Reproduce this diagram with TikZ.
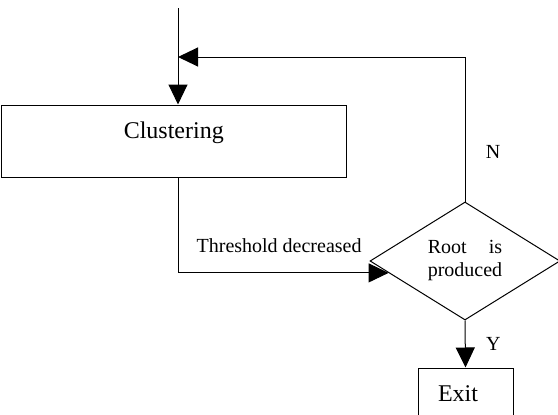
\documentclass[tikz,border=0pt]{standalone}
\usepackage{fontspec}
\setmainfont{Liberation Serif}
\usetikzlibrary{shapes.geometric,arrows.meta,calc}
\tikzset{
  flow/.style={line width=1pt, -{Triangle[length=20pt,width=19pt]}},
  block/.style={draw, line width=1pt, rectangle},
  decision/.style={draw, line width=1pt, diamond, aspect=1.6, inner sep=0pt,
    minimum width=190pt, minimum height=118pt, align=center,
    font=\fontsize{20}{23}\selectfont},
  lbl/.style={font=\fontsize{20}{24}\selectfont}
}
\begin{document}
\begin{tikzpicture}[x=1pt,y=-1pt]
\useasboundingbox (0,0) rectangle (558,415);

\node[block, minimum width=344.5pt, minimum height=72pt, text depth=22pt,
  font=\fontsize{24}{28}\selectfont] (clu) at (173.75,141) {Clustering};
\node[decision] (dia) at (465,261) {Root\hspace{22pt}is\\produced};
\node[block, minimum height=52pt, inner xsep=20pt, text width=55pt, align=left,
  font=\fontsize{24}{28}\selectfont] (exit) at (465.5,394) {Exit};

\coordinate (start) at (178,8);
\coordinate (join) at (178,57);
\coordinate (hit) at ($(dia.west)!0.2!(dia.south)$);

% loop back and flow
\draw[flow] (start) -- (start |- clu.north);
\draw[flow] (dia.north) |- node[lbl, pos=0.17, right=17pt] {N} (join);
\draw[flow] (start |- clu.south) |- node[lbl, pos=0.74, above=16pt] {Threshold decreased} (hit);
\draw[flow] (dia.south) -- node[lbl, right=17pt] {Y} (exit.north);

\end{tikzpicture}
\end{document}
